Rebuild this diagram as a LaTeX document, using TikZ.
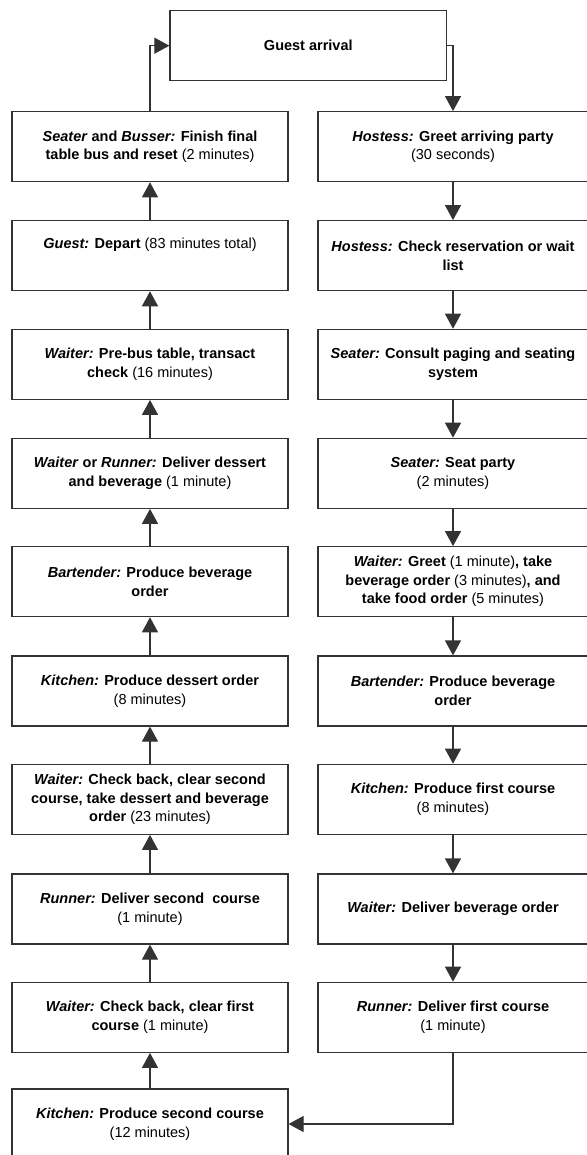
\documentclass[tikz,border=0pt]{standalone}
\usepackage{fontspec}
\setmainfont{Liberation Sans}
\usetikzlibrary{arrows.meta}
% role names are set in bold italic, durations in medium weight
\newcommand\actor[1]{\textit{#1}}
\newcommand\mins[1]{\textmd{#1}}
\begin{document}
\begin{tikzpicture}[x=1pt,y=-1pt,
  line width=1.2pt,
  box/.style={draw=black!80, rectangle, minimum height=70pt, inner sep=0pt,
    align=center, font=\fontsize{14.5}{18.5}\selectfont\bfseries},
  lbox/.style={box, minimum width=276pt},
  rbox/.style={box, minimum width=270pt},
  flow/.style={draw=black!80, -{Triangle[length=15pt,width=16pt]}}]
\useasboundingbox (0,0) rectangle (586,1155);
\fill[white] (0,0) rectangle (586,1155);

% start of the cycle
\node[box, minimum width=276.7pt] (ga) at (308.3,45.7) {Guest arrival};

% right column: arrival to first course
\node[rbox] (r1) at (453,146.7) {\actor{Hostess:} Greet arriving party\\ \mins{(30 seconds)}};
\node[rbox] (r2) at (453,255.7) {\actor{Hostess:} Check reservation or wait\\ list};
\node[rbox] (r3) at (453,364.3) {\actor{Seater:} Consult paging and seating\\ system};
\node[rbox] (r4) at (453,473.3) {\actor{Seater:} Seat party\\ \mins{(2 minutes)}};
\node[rbox] (r5) at (453,581.7) {\actor{Waiter:} Greet \mins{(1 minute)}, take\\ beverage order \mins{(3 minutes)}, and\\ take food order \mins{(5 minutes)}};
\node[rbox] (r6) at (453,691) {\actor{Bartender:} Produce beverage\\ order};
\node[rbox] (r7) at (453,799.3) {\actor{Kitchen:} Produce first course\\ \mins{(8 minutes)}};
\node[rbox] (r8) at (453,909) {\actor{Waiter:} Deliver beverage order};
\node[rbox] (r9) at (453,1017.3) {\actor{Runner:} Deliver first course\\ \mins{(1 minute)}};

% left column: second course to departure
\node[lbox] (l1) at (150,146.7) {\actor{Seater} and \actor{Busser:} Finish final\\ table bus and reset \mins{(2 minutes)}};
\node[lbox] (l2) at (150,255.7) {\actor{Guest:} Depart \mins{(83 minutes total)}\\ \strut};
\node[lbox] (l3) at (150,364.3) {\actor{Waiter:} Pre-bus table, transact\\ check \mins{(16 minutes)}};
\node[lbox] (l4) at (150,473.3) {\actor{Waiter} or \actor{Runner:} Deliver dessert\\ and beverage \mins{(1 minute)}};
\node[lbox] (l5) at (150,581.7) {\actor{Bartender:} Produce beverage\\ order};
\node[lbox] (l6) at (150,691) {\actor{Kitchen:} Produce dessert order\\ \mins{(8 minutes)}};
\node[lbox] (l7) at (150,799.3) {\actor{Waiter:} Check back, clear second\\ course, take dessert and beverage\\ order \mins{(23 minutes)}};
\node[lbox] (l8) at (150,909) {\actor{Runner:} Deliver second\ \ course\\ \mins{(1 minute)}};
\node[lbox] (l9) at (150,1017.3) {\actor{Waiter:} Check back, clear first\\ course \mins{(1 minute)}};
\node[lbox] (l10) at (150,1124) {\actor{Kitchen:} Produce second course\\ \mins{(12 minutes)}};

% connectors
\draw[flow] (ga.east) -| (r1.north);
\foreach \a/\b in {r1/r2,r2/r3,r3/r4,r4/r5,r5/r6,r6/r7,r7/r8,r8/r9}
  \draw[flow] (\a.south) -- (\b.north);
\draw[flow] (r9.south) |- (l10.east);
\foreach \a/\b in {l10/l9,l9/l8,l8/l7,l7/l6,l6/l5,l5/l4,l4/l3,l3/l2,l2/l1}
  \draw[flow] (\a.north) -- (\b.south);
\draw[flow] (l1.north) |- (ga.west);
\end{tikzpicture}
\end{document}
